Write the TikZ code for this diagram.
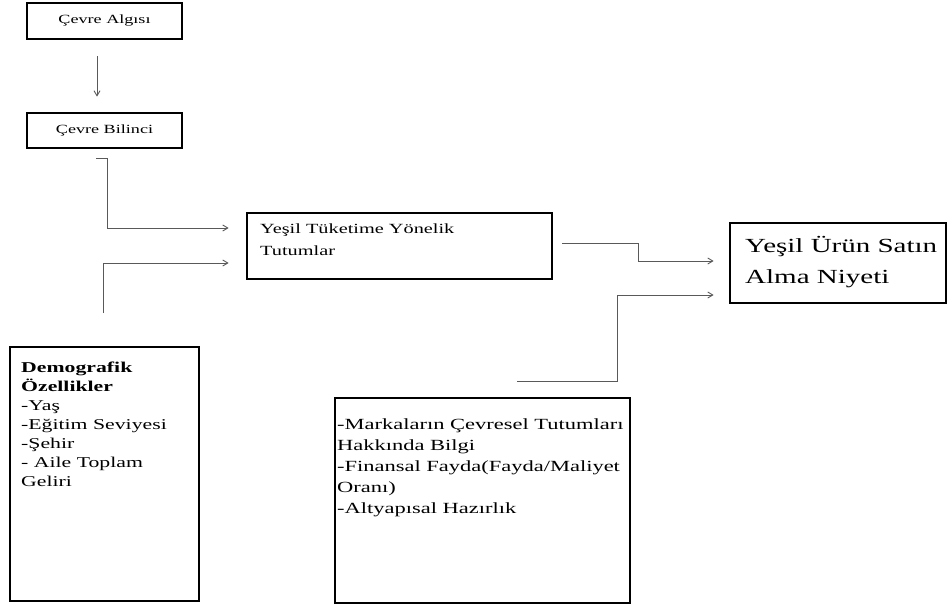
\documentclass[tikz,border=0pt]{standalone}
\usepackage{fontspec}
\setmainfont[FakeStretch=1.45]{Liberation Serif}
\usetikzlibrary{arrows.meta}
\begin{document}
\begin{tikzpicture}[x=1pt,y=-1pt,
  box/.style={draw=black,line width=2.8pt,inner sep=0pt,rectangle},
  txt/.style={inner sep=0pt,align=left,anchor=base west},
  conn/.style={draw=black!65,line width=0.9pt,-{Straight Barb[length=5pt,width=6pt]}}]
\useasboundingbox (0,0) rectangle (949,605);
% boxes
\node[box,minimum width=155pt,minimum height=36pt,font=\fontsize{12.5}{14}\selectfont] (alg) at (104.5,21) {Çevre Algısı};
\node[box,minimum width=155pt,minimum height=35pt,font=\fontsize{12.5}{14}\selectfont] (bil) at (104.5,130.5) {Çevre Bilinci};
\node[box,minimum width=305pt,minimum height=66pt] (tuk) at (399.5,246) {};
\node[box,minimum width=216pt,minimum height=80pt] (niy) at (838,263) {};
\node[box,minimum width=189pt,minimum height=254pt] (dem) at (104.5,474) {};
\node[box,minimum width=295pt,minimum height=205pt] (mar) at (482.5,500.5) {};
% texts (anchored at the baseline of their last line)
\node[txt,font=\fontsize{14}{22}\selectfont] (tuktxt) at (260,255) {Yeşil Tüketime Yönelik\\Tutumlar};
\node[txt,font=\fontsize{20}{31}\selectfont] (niytxt) at (745,283) {Yeşil Ürün Satın\\Alma Niyeti};
\node[txt,font=\fontsize{15}{19}\selectfont] (demtxt) at (21,486) {\textbf{Demografik}\\\textbf{Özellikler}\\-Yaş\\-Eğitim Seviyesi\\-Şehir\\- Aile Toplam\\Geliri};
\node[txt,font=\fontsize{15.5}{21}\selectfont] (martxt) at (337,513) {-Markaların Çevresel Tutumları\\Hakkında Bilgi\\-Finansal Fayda(Fayda/Maliyet\\Oranı)\\-Altyapısal Hazırlık};
% connector start points
\coordinate (s1) at (96,158);
\coordinate (s2) at (103,313);
\coordinate (s3) at (562,243);
\coordinate (s4) at (517,381);
% connectors
\draw[conn,shorten <=16pt,shorten >=15pt] ([xshift=-7.5pt]alg.south) -- ([xshift=-7.5pt]bil.north);
\draw[conn,shorten >=17pt] (s1) -| (107,228) -- (tuk.west |- {(0,228)});
\draw[conn,shorten >=17pt] (s2) |- (tuk.west |- {(0,263)});
\draw[conn,shorten >=15pt] (s3) -| (638,261) -- (niy.west |- {(0,261)});
\draw[conn,shorten >=15pt] (s4) -| (617,295) -- (niy.west |- {(0,295)});
\end{tikzpicture}
\end{document}
